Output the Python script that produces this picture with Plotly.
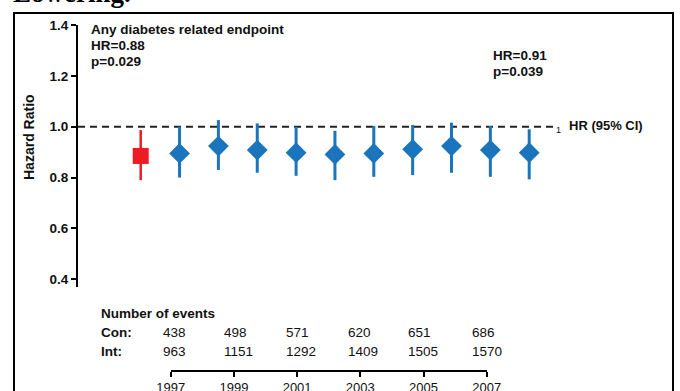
import plotly.graph_objects as go

W, H = 680, 391

# Hazard ratios with 95% confidence limits
trial_pos = [0]
trial_hr = [0.885]
trial_lo = [0.790]
trial_hi = [0.987]

followup_pos = [1, 2, 3, 4, 5, 6, 7, 8, 9, 10]
followup_hr = [0.895, 0.924, 0.908, 0.898, 0.891, 0.895, 0.911, 0.924, 0.908, 0.898]
followup_lo = [0.800, 0.830, 0.819, 0.807, 0.790, 0.803, 0.810, 0.819, 0.803, 0.793]
followup_hi = [1.000, 1.026, 1.013, 1.000, 0.984, 1.003, 1.007, 1.016, 1.003, 0.990]

y_ticks = [0.4, 0.6, 0.8, 1.0, 1.2, 1.4]

# Event counts per calendar year
years = [1997, 1999, 2001, 2003, 2005, 2007]
con_events = [438, 498, 571, 620, 651, 686]
int_events = [963, 1151, 1292, 1409, 1505, 1570]

SANS = "Liberation Sans, Arial, sans-serif"
SERIF = "Liberation Serif, Times New Roman, serif"
BLUE = "#1b75bc"
RED = "#ed1c24"
INK = "#111111"


def px(x):
    return x / W


def py(y):
    return 1 - y / H


fig = go.Figure()

# carrier for the calendar-year axis (drawn first, holds no visible marks)
fig.add_trace(go.Scatter(
    x=years, y=[None] * len(years), xaxis="x2", yaxis="y",
    mode="markers", showlegend=False, hoverinfo="skip",
))

fig.add_trace(go.Scatter(
    x=trial_pos, y=trial_hr, mode="markers",
    marker=dict(symbol="square", size=16, color=RED, line=dict(width=0)),
    error_y=dict(type="data", symmetric=False,
                 array=[h - m for h, m in zip(trial_hi, trial_hr)],
                 arrayminus=[m - l for m, l in zip(trial_hr, trial_lo)],
                 color=RED, thickness=2.5, width=0),
    showlegend=False, hoverinfo="skip",
))

fig.add_trace(go.Scatter(
    x=followup_pos, y=followup_hr, mode="markers",
    marker=dict(symbol="diamond", size=16, color=BLUE, line=dict(width=0)),
    error_y=dict(type="data", symmetric=False,
                 array=[h - m for h, m in zip(followup_hi, followup_hr)],
                 arrayminus=[m - l for m, l in zip(followup_hr, followup_lo)],
                 color=BLUE, thickness=3, width=0),
    showlegend=False, hoverinfo="skip",
))

px_per_unit = 38.85
x0_px, x1_px = 78, 673
first_px = 140.7
r0 = -(first_px - x0_px) / px_per_unit
r1 = r0 + (x1_px - x0_px) / px_per_unit

y_top_px, y_bot_px = 25, 287
y_per_unit = 254.3
y_low = 1.4 - (y_bot_px - y_top_px) / y_per_unit

fig.update_layout(
    width=W, height=H,
    margin=dict(l=0, r=0, t=0, b=0, autoexpand=False),
    paper_bgcolor="white", plot_bgcolor="rgba(0,0,0,0)",
    font=dict(family=SANS, color=INK),
    xaxis=dict(domain=[px(x0_px), px(x1_px)], range=[r0, r1],
               visible=False, fixedrange=True, automargin=False),
    yaxis=dict(domain=[py(y_bot_px), py(y_top_px)], range=[y_low, 1.4],
               tickvals=y_ticks, tickformat=".1f", automargin=False,
               showline=True, linecolor="black", linewidth=2,
               ticks="outside", ticklen=5, tickwidth=2, tickcolor="black",
               showgrid=False, zeroline=False,
               tickfont=dict(family=SANS, size=13.5, color=INK, weight="bold"),
               fixedrange=True),
    xaxis2=dict(anchor="free", position=py(370.7), automargin=False,
                domain=[px(170.7), px(486.7)], range=[1997, 2007],
                tickvals=years, showline=True, linecolor="black", linewidth=2,
                ticks="outside", ticklen=5, tickwidth=2, tickcolor="black",
                showgrid=False, zeroline=False,
                tickfont=dict(family=SANS, size=13, color=INK),
                fixedrange=True),
)

# frame around the panel
fig.add_shape(type="path",
              path=f"M {px(14)},{py(420)} L {px(14)},{py(13)} L {px(673)},{py(13)} L {px(673)},{py(420)}",
              xref="paper", yref="paper", line=dict(color="black", width=2))

# HR = 1 reference line
fig.add_shape(type="line", xref="x domain", yref="y",
              x0=0, x1=(553 - x0_px) / (x1_px - x0_px), y0=1.0, y1=1.0,
              line=dict(color="#222222", width=2, dash="7px,5px"),
              layer="below")


def label(text, x, y, size=13.5, bold=True, anchor="left", family=SANS, **kw):
    fig.add_annotation(text=text, xref="paper", yref="paper",
                       x=px(x), y=py(y), xanchor=anchor, yanchor="middle",
                       showarrow=False,
                       font=dict(family=family, size=size, color=INK,
                                 weight="bold" if bold else "normal"), **kw)


# slide heading (partly outside the frame)
fig.add_annotation(text="Lowering.", xref="paper", yref="paper",
                   x=px(11), y=py(9.5), xanchor="left", yanchor="bottom",
                   showarrow=False,
                   font=dict(family=SERIF, size=27, color="black", weight="bold"))

label("Any diabetes related endpoint", 89, 30)
label("HR=0.88", 89, 45.7)
label("p=0.029", 89, 61)
label("HR=0.91", 491, 55.7)
label("p=0.039", 491, 71.7)
label("HR (95% CI)", 567, 125, size=13)
label("1", 558.5, 130, size=9, bold=False, anchor="center")

label("Hazard Ratio", 29, 137, size=14, anchor="center", textangle=-90)

label("Number of events", 99, 313.3)
label("Con:", 99, 332.7)
label("Int:", 99, 351)
col_px = [160.7, 222, 283.7, 346, 405.7, 470]
for cx, c, i in zip(col_px, con_events, int_events):
    label(str(c), cx, 332.7, bold=False)
    label(str(i), cx, 351, bold=False)

fig.write_html("out.html")
